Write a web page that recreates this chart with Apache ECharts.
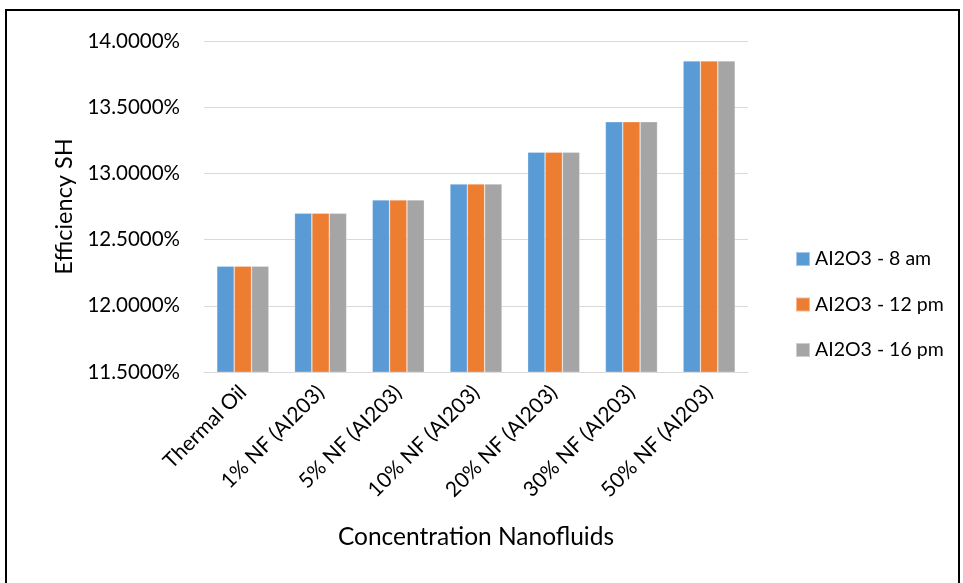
<!DOCTYPE html>
<html>
<head>
<meta charset="utf-8">
<script src="https://cdn.jsdelivr.net/npm/echarts@6/dist/echarts.min.js"></script>
<style>
  html, body { margin: 0; padding: 0; background: #fff; }
  #frame { position: absolute; left: 5px; top: 9px; width: 955px; height: 580px; border: 2px solid #000; border-bottom: none; box-sizing: border-box; }
  #chart { width: 963px; height: 583px; position: absolute; left: 0; top: 0; }
</style>
</head>
<body>
<div id="frame"></div>
<div id="chart"></div>
<script>
// Categories along the x axis
const categories = ['Thermal Oil', '1% NF (AI203)', '5% NF (AI203)', '10% NF (AI203)', '20% NF (AI203)', '30% NF (AI203)', '50% NF (AI203)'];

// Efficiency values (in percent) per measurement time
const eff8am  = [12.30, 12.70, 12.80, 12.92, 13.16, 13.39, 13.85];
const eff12pm = [12.30, 12.70, 12.80, 12.92, 13.16, 13.39, 13.85];
const eff16pm = [12.30, 12.70, 12.80, 12.92, 13.16, 13.39, 13.85];

const seriesNames = ['AI2O3 - 8 am', 'AI2O3 - 12 pm', 'AI2O3 - 16 pm'];
const colors = ['#5b9bd5', '#ed7d31', '#a5a5a5'];

// Y axis range and step (percent)
const yMin = 11.5, yMax = 14.0, yStep = 0.5;

const font = 'Lato, "Open Sans", sans-serif';
const chart = echarts.init(document.getElementById('chart'), null, { renderer: 'canvas' });

const dataSets = [eff8am, eff12pm, eff16pm];
chart.setOption({
  animation: false,
  color: colors,
  textStyle: { fontFamily: font },
  grid: { left: 204, top: 41, width: 544, height: 331 },
  legend: {
    orient: 'vertical',
    left: 790,
    top: 244,
    itemGap: 25.5,
    itemWidth: 14,
    itemHeight: 14,
    icon: 'rect',
    textStyle: { fontSize: 19.5, color: '#000', fontFamily: font },
    data: seriesNames
  },
  xAxis: {
    type: 'category',
    data: categories,
    name: 'Concentration Nanofluids',
    nameLocation: 'middle',
    nameGap: 153,
    nameTextStyle: { fontSize: 24.5, color: '#000', fontFamily: font },
    axisLine: { lineStyle: { color: '#d9d9d9', width: 1 } },
    axisTick: { show: false },
    axisLabel: { rotate: 45, fontSize: 21, color: '#000', margin: 17, interval: 0, fontFamily: font }
  },
  yAxis: {
    type: 'value',
    min: yMin,
    max: yMax,
    interval: yStep,
    name: 'Efficiency SH',
    nameLocation: 'middle',
    nameGap: 128,
    nameTextStyle: { fontSize: 23.5, color: '#000', fontFamily: font },
    axisLine: { show: false },
    axisTick: { show: false },
    splitLine: { lineStyle: { color: '#d9d9d9', width: 1 } },
    axisLabel: {
      fontSize: 20.5, color: '#000', margin: 24, fontFamily: font,
      formatter: v => v.toFixed(4) + '%'
    }
  },
  series: seriesNames.map((n, i) => ({
    name: n,
    type: 'bar',
    data: dataSets[i],
    barGap: '0%',
    barCategoryGap: '33%',
    itemStyle: { borderColor: 'rgba(255,255,255,0.45)', borderWidth: 0.6 }
  }))
});
</script>
</body>
</html>
